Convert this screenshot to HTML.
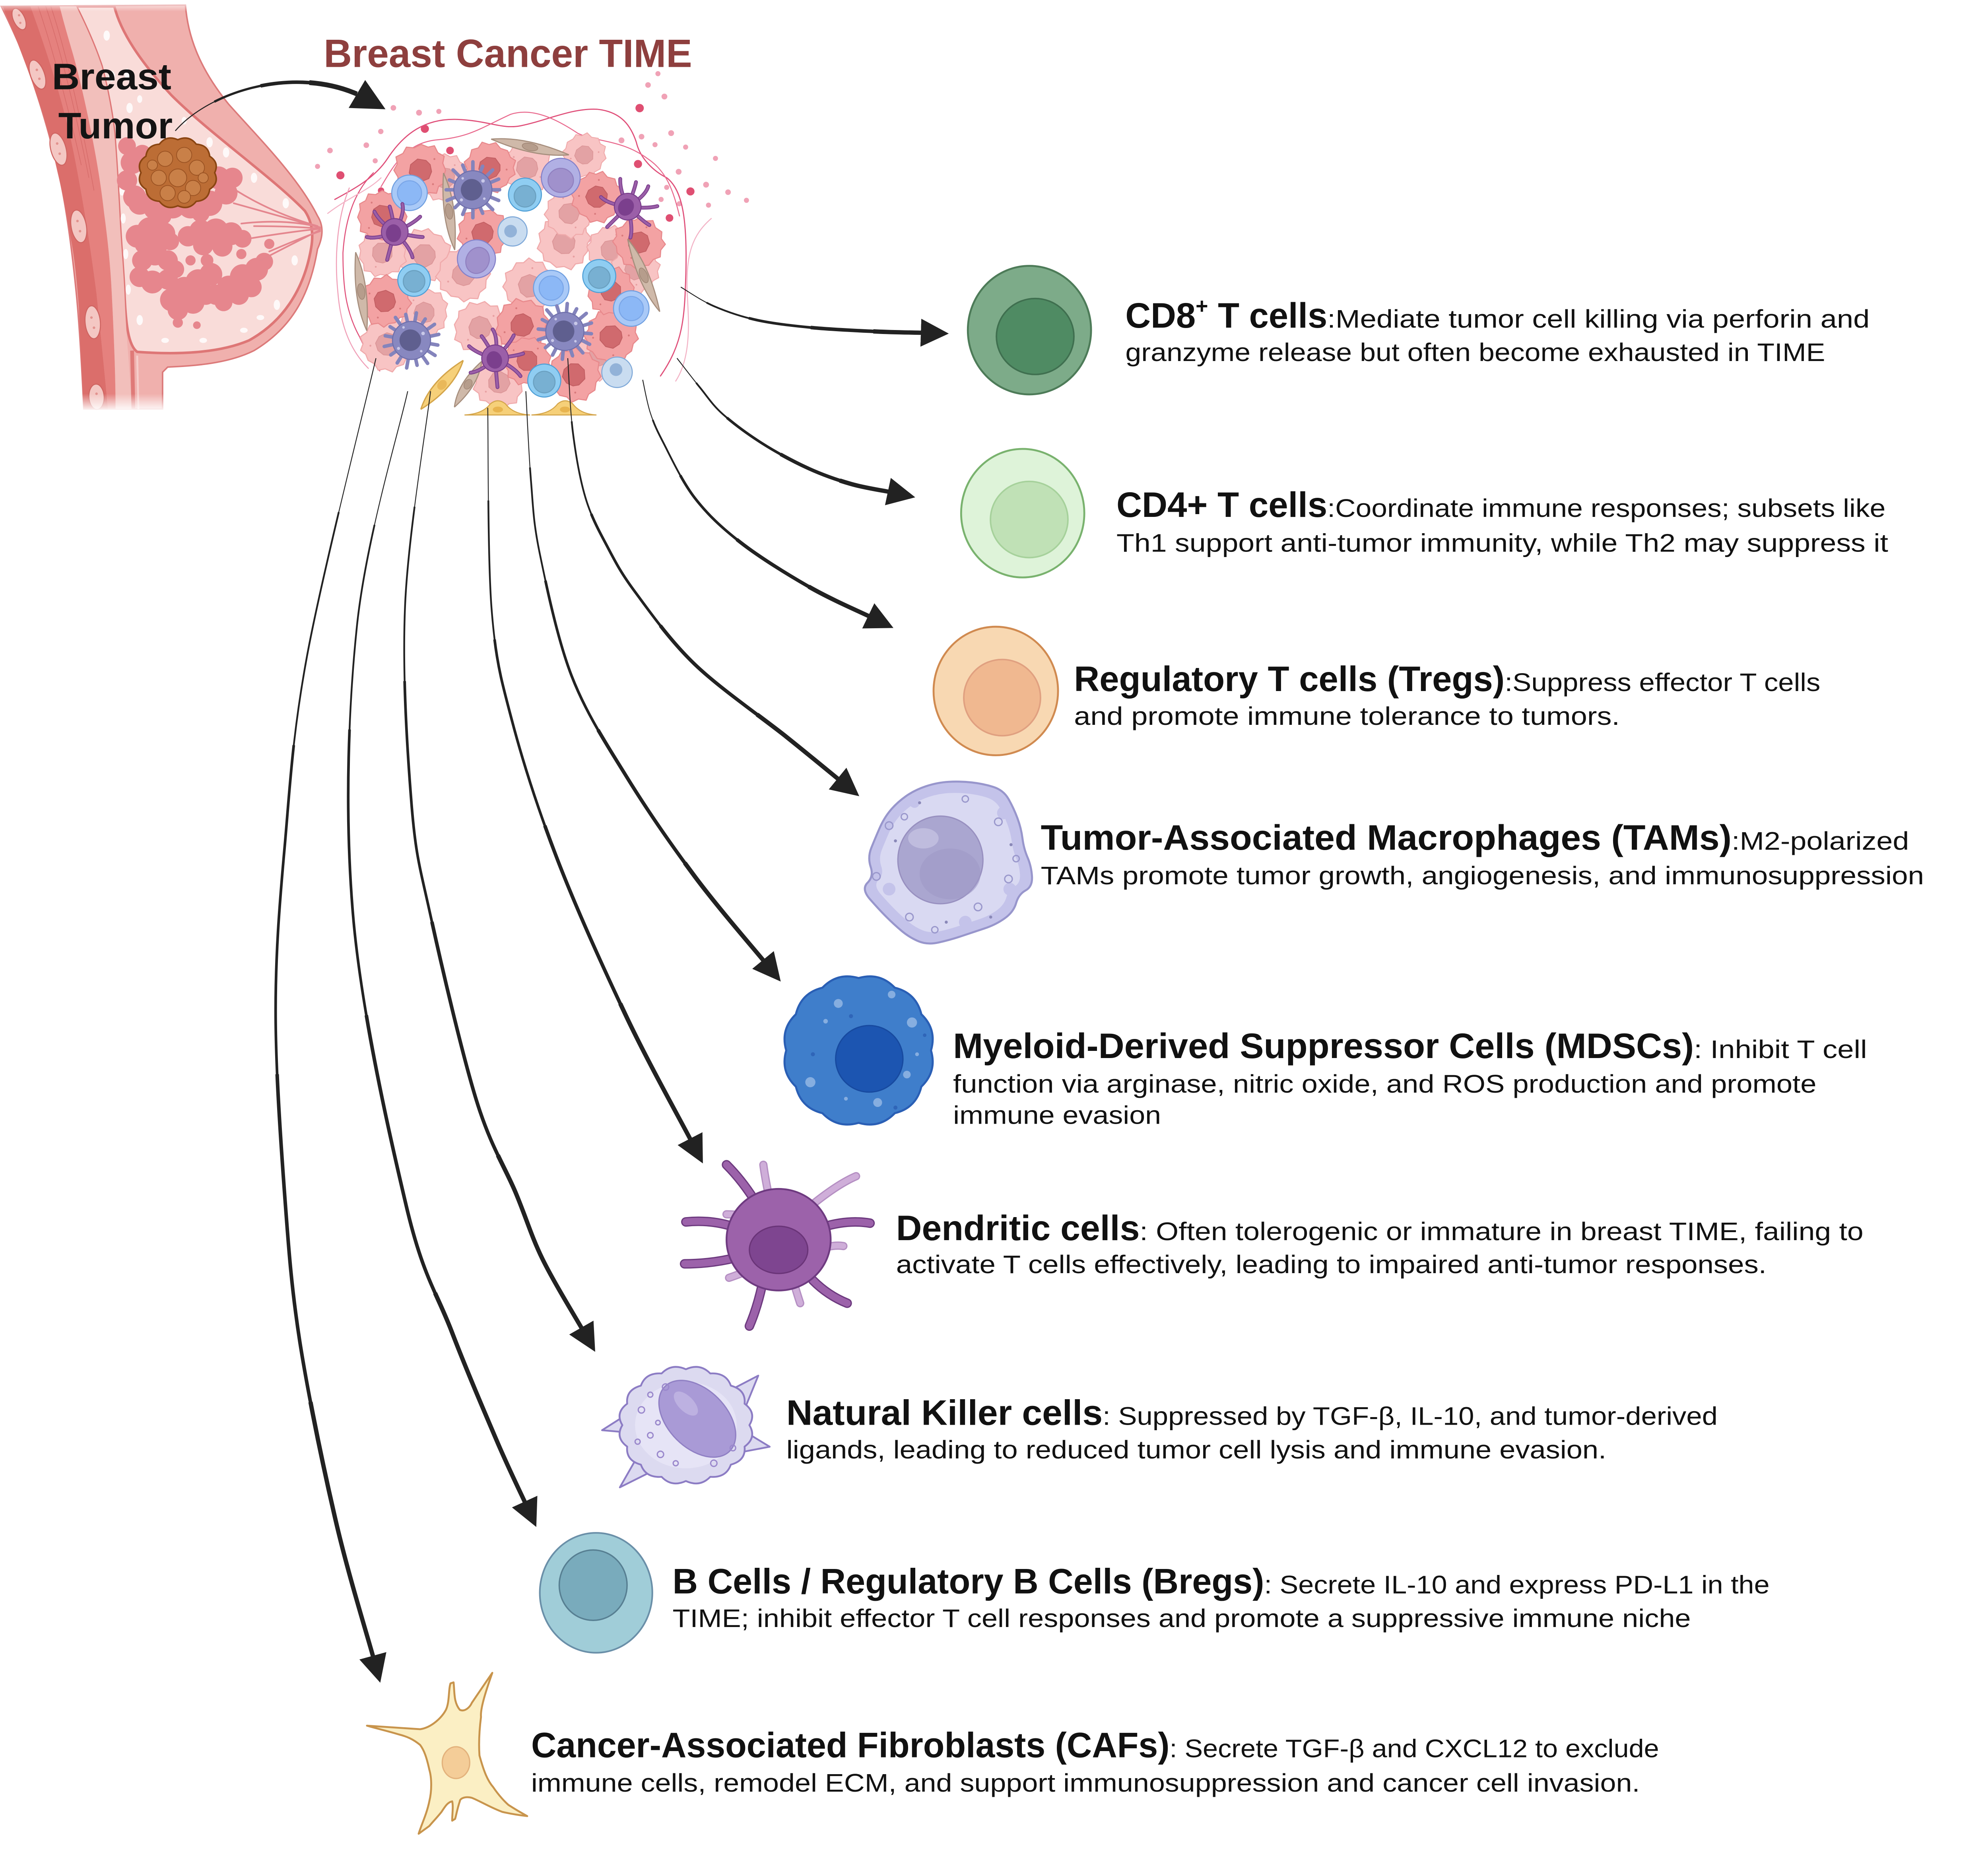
<!DOCTYPE html>
<html>
<head>
<meta charset="utf-8">
<style>
html,body{margin:0;padding:0;background:#fff;width:5009px;height:4688px;overflow:hidden;}
svg{display:block;}
</style>
</head>
<body>
<svg xmlns="http://www.w3.org/2000/svg" width="5009" height="4688" viewBox="0 0 1568 1467.5">
<defs>
  <marker id="ah" markerUnits="userSpaceOnUse" markerWidth="24" markerHeight="22" refX="2" refY="11" orient="auto" viewBox="0 0 24 22">
    <path d="M0,0 L22,11 L0,22 Z" fill="#222"/>
  </marker>
  <path id="ccp" d="M18,0 L16.5,4.5 L17.5,9 L13,11.5 L11.5,16.5 L6,16 L1,18.5 L-4.5,16.5 L-9,17 L-11.5,12.5 L-16.5,10.5 L-16,5 L-19,0 L-16.5,-4.5 L-17.5,-9.5 L-12.5,-12 L-10,-16.5 L-4.5,-16 L0.5,-18.5 L5.5,-16.5 L10,-17.5 L12.5,-12.5 L17,-10 L16,-5 Z"/>
  <path id="ncp" d="M8,1 L6,6 L1,8 L-5,6.5 L-8,2 L-7,-4 L-2,-8 L4,-7 L7,-4 Z"/>
  <g id="ccD">
    <use href="#ccp" fill="#f3a2a3" stroke="#e8898c" stroke-width=".8" stroke-linejoin="round"/>
    <use href="#ncp" fill="#d06a6e" stroke="#c25e62" stroke-width=".6" stroke-linejoin="round"/>
    <circle cx="10" cy="-8" r=".7" fill="#d87a7c"/><circle cx="-10" cy="8" r=".7" fill="#d87a7c"/><circle cx="9" cy="10" r=".7" fill="#d87a7c"/>
  </g>
  <g id="ccL">
    <use href="#ccp" fill="#f8c4c4" stroke="#f0aaab" stroke-width=".8" stroke-linejoin="round"/>
    <use href="#ncp" fill="#e3a2a4" stroke="#dc9698" stroke-width=".6" stroke-linejoin="round"/>
    <circle cx="-10" cy="-8" r=".7" fill="#e8a0a2"/><circle cx="10" cy="7" r=".7" fill="#e8a0a2"/>
  </g>
  <g id="spk">
    <path d="M0,0L21,0M0,0L20.3,8.4M0,0L15.6,15.6M0,0L7.7,18.5M0,0L0,22M0,0L-8,19.4M0,0L-14.1,14.1M0,0L-20.3,8.4M0,0L-21,0M0,0L-18.5,-7.7M0,0L-15.6,-15.6M0,0L-8,-19.4M0,0L0,-22M0,0L7.7,-18.5M0,0L15.6,-15.6M0,0L20.3,-8.4" stroke="#8484bc" stroke-width="2.8" stroke-linecap="round"/>
    <circle r="15" fill="#8888c0" stroke="#6f6fab" stroke-width=".8"/>
    <circle cx="-1" cy="0" r="8.5" fill="#5f5f8f"/>
    <circle cx="8" cy="-7" r="1.4" fill="#c8c8e8"/><circle cx="-9" cy="8" r="1.2" fill="#c8c8e8"/><circle cx="9" cy="7" r="1" fill="#c8c8e8"/><circle cx="-8" cy="-9" r="1" fill="#c8c8e8"/>
  </g>
  <g id="dcs">
    <path d="M0,0 Q8,-14 6,-22 M0,0 Q14,-6 20,-12 M0,0 Q16,4 22,4 M0,0 Q12,12 14,20 M0,0 Q-4,14 -6,22 M0,0 Q-14,6 -22,4 M0,0 Q-12,-8 -16,-16 M0,0 Q-2,-14 -4,-20" fill="none" stroke="#7a3e8c" stroke-width="3" stroke-linecap="round"/>
    <path d="M0,0 Q8,-14 6,-22 M0,0 Q14,-6 20,-12 M0,0 Q16,4 22,4 M0,0 Q12,12 14,20 M0,0 Q-4,14 -6,22 M0,0 Q-14,6 -22,4 M0,0 Q-12,-8 -16,-16 M0,0 Q-2,-14 -4,-20" fill="none" stroke="#9b5fa8" stroke-width="1.7" stroke-linecap="round"/>
    <circle r="10.5" fill="#9b5fa8" stroke="#7a3e8c" stroke-width=".8"/>
    <ellipse cx="-1" cy="1" rx="6" ry="7" fill="#7b3f8d"/>
  </g>
  <g id="spd">
    <path d="M-30,0 Q-5,-7 30,0 Q5,7 -30,0 Z" fill="#cfb9a9" stroke="#a68e7d" stroke-width=".8"/>
    <ellipse rx="6" ry="2.6" fill="#b69d8c" stroke="#a08675" stroke-width=".5"/>
  </g>
  <linearGradient id="fadeTop" x1="0" y1="0" x2="0" y2="1">
    <stop offset="0" stop-color="#fff" stop-opacity="1"/><stop offset="1" stop-color="#fff" stop-opacity="0"/>
  </linearGradient>
  <linearGradient id="fadeBot" x1="0" y1="0" x2="0" y2="1">
    <stop offset="0" stop-color="#fff" stop-opacity="0"/><stop offset="1" stop-color="#fff" stop-opacity="1"/>
  </linearGradient>
  <path id="tamp" d="M685,708 Q678,700 683,695 Q688,690 685.5,682.5 Q683,675 686,667.5 Q689,660 692.5,652 Q696,644 701,638 Q706,632 713,627 Q720,622 729,619 Q738,616 747,615.5 Q756,615 765,616 Q774,617 782,619.5 Q790,622 794,629 Q798,636 801,644 Q804,652 805,660 Q806,668 809,675 Q812,682 812.5,690 Q813,698 807.5,701 Q802,704 800,711 Q798,718 791,723 Q784,728 775,731 Q766,734 757,737 Q748,740 739,742 Q730,744 723,741 Q716,738 710,733 Q704,728 698,722 Q692,716 685,708 Z"/>
  <path id="aCD8" pathLength="100" d="M536,226 C540.3,228.5 552,236.7 562,241 C572,245.3 583,249.2 596,252 C609,254.8 624.3,256.5 640,258 C655.7,259.5 675.5,260.3 690,261 C704.5,261.7 720.8,261.8 727,262"/>
  <path id="aCD4" pathLength="100" d="M533,282 C536,285.8 545,297.7 551,305 C557,312.3 560.8,318.7 569,326 C577.2,333.3 588.7,341.8 600,349 C611.3,356.2 625.3,363.7 637,369 C648.7,374.3 659.3,377.9 670,381 C680.7,384.1 695.8,386.3 701,387.4"/>
  <path id="aTR" pathLength="100" d="M506,299 C507,303.3 509.3,316.8 512,325 C514.7,333.2 516.2,336.8 522,348 C527.8,359.2 536.8,378.8 547,392 C557.2,405.2 568,415.3 583,427 C598,438.7 619.9,452.2 637,462 C654.1,471.8 677.3,481.8 685.4,485.7"/>
  <path id="aTAM" pathLength="100" d="M447,282 C447.7,291.7 448.7,321.7 451,340 C453.3,358.3 456.5,377 461,392 C465.5,407 471.5,417.7 478,430 C484.5,442.3 488.5,450.5 500,466 C511.5,481.5 527.2,504 547,523 C566.8,542 600,564.8 619,580 C638,595.2 654,608.5 661,614.2"/>
  <path id="aMD" pathLength="100" d="M414,308 C414.7,319.7 416.2,356.7 418,378 C419.8,399.3 419.7,410.3 425,436 C430.3,461.7 438.7,502.8 450,532 C461.3,561.2 476.8,584.7 493,611 C509.2,637.3 528.8,665.6 547,690 C565.2,714.4 592.8,746.1 602,757.3"/>
  <path id="aDC" pathLength="100" d="M384,321 C384.5,347.3 383.8,438 387,479 C390.2,520 394.3,534 403,567 C411.7,600 424,638.2 439,677 C454,715.8 475.5,763.1 493,800 C510.5,836.9 535.7,881.8 544.2,898.2"/>
  <path id="aNK" pathLength="100" d="M339,308 C335.7,335.8 321.5,420.8 319,475 C316.5,529.2 320.7,592 324,633 C327.3,674 330.5,682.2 339,721 C347.5,759.8 363.8,829.7 375,866 C386.2,902.3 397.3,918.2 406,939 C414.7,959.8 418.2,973 427,991 C435.8,1009 453.4,1037.6 458.7,1046.9"/>
  <path id="aB" pathLength="100" d="M321,308 C314.3,338.8 288.2,424.2 281,493 C273.8,561.8 271.5,644.8 278,721 C284.5,797.2 307.1,895.5 320,950 C332.9,1004.5 343.7,1017.3 355.5,1048 C367.3,1078.7 381.3,1111.3 391,1134 C400.7,1156.7 410.1,1175.7 413.9,1184"/>
  <path id="aCAF" pathLength="100" d="M296,282 C287,320.8 254,450.7 242,515 C230,579.3 228.2,621.2 224,668 C219.8,714.8 217,750.8 217,796 C217,841.2 220.8,895.7 224,939 C227.2,982.3 229.3,1012.8 236,1056 C242.8,1099.2 254.8,1156.4 264.5,1198 C274.2,1239.6 289.2,1287.6 294.1,1305.5"/>
</defs>

<!-- ================= BREAST ANATOMY ================= -->
<g>
  <path d="M1,5 L146,4 C148,30 158,55 180,82 C205,110 235,140 250,170 Q257,181 250,196 C244,232 230,258 200,276 C178,287 150,288 132,289 L128,293 L128,322 L66,322 C64,280 62,250 60,230 C57,200 52,160 46,136 C38,100 28,70 18,42 C12,28 6,15 1,5 Z" fill="#f0b0ad" stroke="#dc7a7a" stroke-width="1.2"/>
  <path d="M60,5 L90,5 C95,25 110,48 135,75 C165,105 215,140 240,166 Q248,178 245,195 C240,225 225,252 196,268 C170,279 135,279 108,277 C101,272 99,255 98,231 C97,210 95,190 94,168 C93,150 92,130 90,105 C89,95 86,75 80,52 C76,40 70,25 60,5 Z" fill="#f9dcd9" stroke="#de7676" stroke-width="2"/>
  <path d="M2,5 L24,5 C35,35 50,80 58,120 C66,160 72,200 76,231 C80,270 83,300 85,322 L66,322 C64,290 63,262 62,241 C60,215 58,200 56,189 C50,155 42,115 32,84 C24,60 12,28 2,5 Z" fill="#db6e6b"/>
  <path d="M24,5 L47,5 C52,25 57,40 60,52 C66,75 70,95 72,105 C77,130 80,150 82,168 C85,190 87,210 88,231 C90,270 91,300 91,322 L85,322 C83,300 80,270 76,231 C72,200 66,160 58,120 C50,80 35,35 24,5 Z" fill="#e5817e"/>
  <path d="M30,5 C42,40 55,90 64,130 M36,5 C48,40 60,90 70,140 M40,5 C52,40 64,95 74,150" stroke="#d66c6a" stroke-width=".5" fill="none"/>
  <path d="M47,5 L60,5 C70,25 76,40 80,52 C86,75 89,95 90,105 C92,130 93,150 94,168 C95,190 97,210 98,231 C99,260 102,290 104,322 L91,322 C91,300 90,270 88,231 C87,210 85,190 82,168 C80,150 77,130 72,105 C70,95 66,75 60,52 C57,40 52,25 47,5 Z" fill="#f2bfbb"/>
  <path d="M104,276 L105,322" stroke="#df7a78" stroke-width="3"/>
  <path d="M108,280 L109,322" stroke="#f6cdca" stroke-width="1.5"/>
  <g fill="#f4c7c3" stroke="#cf6461" stroke-width=".8">
    <ellipse cx="15" cy="15" rx="4.5" ry="9" transform="rotate(-25 15 15)"/>
    <ellipse cx="29.5" cy="58.7" rx="5.5" ry="12" transform="rotate(-20 29.5 58.7)"/>
    <ellipse cx="46" cy="117.4" rx="6" ry="13" transform="rotate(-15 46 117.4)"/>
    <ellipse cx="62" cy="178.2" rx="6" ry="13" transform="rotate(-10 62 178.2)"/>
    <ellipse cx="73" cy="253.7" rx="6" ry="13" transform="rotate(-5 73 253.7)"/>
    <ellipse cx="76" cy="312.4" rx="6" ry="10" transform="rotate(-3 76 312.4)"/>
  </g>
  <g fill="#e2928e">
    <circle cx="15" cy="12" r=".9"/><circle cx="16" cy="18" r=".9"/><circle cx="29" cy="55" r="1"/><circle cx="31" cy="62" r="1"/><circle cx="45" cy="113" r="1"/><circle cx="47" cy="121" r="1"/><circle cx="61" cy="174" r="1"/><circle cx="63" cy="182" r="1"/><circle cx="72" cy="250" r="1"/><circle cx="74" cy="258" r="1"/><circle cx="76" cy="310" r="1"/>
  </g>
  <g fill="#ffffff" opacity=".85">
    <ellipse cx="84" cy="28" rx="2.5" ry="4"/><ellipse cx="88" cy="60" rx="2.5" ry="4"/><ellipse cx="102" cy="85" rx="2.5" ry="4"/><ellipse cx="120" cy="100" rx="2.5" ry="4"/><ellipse cx="165" cy="112" rx="2.5" ry="4"/><ellipse cx="178" cy="120" rx="2.5" ry="4"/><ellipse cx="200" cy="140" rx="2.5" ry="4"/><ellipse cx="225" cy="160" rx="2.5" ry="4"/><ellipse cx="232" cy="205" rx="2.5" ry="4"/><ellipse cx="218" cy="240" rx="2.5" ry="4"/><ellipse cx="192" cy="260" rx="3" ry="2"/><ellipse cx="160" cy="268" rx="3" ry="2"/><ellipse cx="130" cy="268" rx="3" ry="2"/><ellipse cx="110" cy="252" rx="2.5" ry="4"/><ellipse cx="101" cy="228" rx="2" ry="4"/><ellipse cx="99" cy="200" rx="2" ry="4"/><ellipse cx="97" cy="172" rx="2" ry="4"/><ellipse cx="96" cy="150" rx="2" ry="4"/><ellipse cx="100" cy="58" rx="2" ry="4"/><ellipse cx="110" cy="78" rx="2" ry="3"/><ellipse cx="145" cy="95" rx="2" ry="3"/><ellipse cx="205" cy="250" rx="3" ry="2"/>
  </g>
  <g fill="#e6868d">
    <circle cx="100" cy="115" r="7"/><circle cx="104" cy="128" r="9"/><circle cx="100" cy="142" r="8"/><circle cx="106" cy="155" r="9"/><circle cx="112" cy="121" r="7"/>
    <circle cx="110" cy="160" r="9"/><circle cx="122" cy="164" r="9"/><circle cx="136" cy="162" r="10"/><circle cx="150" cy="162" r="10"/><circle cx="165" cy="160" r="10"/><circle cx="178" cy="152" r="9"/><circle cx="183" cy="140" r="8"/><circle cx="172" cy="140" r="9"/><circle cx="158" cy="168" r="7"/><circle cx="128" cy="170" r="7"/>
    <circle cx="108" cy="186" r="9"/><circle cx="118" cy="181" r="10"/><circle cx="129" cy="184" r="9"/><circle cx="134" cy="190" r="7"/><circle cx="114" cy="192" r="8"/><circle cx="124" cy="193" r="8"/>
    <circle cx="148" cy="186" r="8"/><circle cx="158" cy="182" r="9"/><circle cx="170" cy="182" r="10"/><circle cx="182" cy="184" r="9"/><circle cx="191" cy="188" r="7"/><circle cx="160" cy="193" r="8"/><circle cx="175" cy="194" r="8"/>
    <circle cx="112" cy="205" r="8"/><circle cx="122" cy="200" r="9"/><circle cx="132" cy="205" r="8"/><circle cx="110" cy="218" r="8"/><circle cx="120" cy="222" r="9"/><circle cx="132" cy="220" r="8"/><circle cx="138" cy="212" r="7"/>
    <circle cx="135" cy="236" r="9"/><circle cx="145" cy="228" r="10"/><circle cx="156" cy="222" r="10"/><circle cx="166" cy="216" r="9"/><circle cx="140" cy="244" r="8"/><circle cx="152" cy="238" r="9"/><circle cx="162" cy="232" r="8"/>
    <circle cx="170" cy="232" r="8"/><circle cx="180" cy="226" r="9"/><circle cx="191" cy="218" r="10"/><circle cx="202" cy="212" r="9"/><circle cx="208" cy="206" r="7"/><circle cx="176" cy="238" r="7"/><circle cx="188" cy="232" r="8"/><circle cx="198" cy="226" r="8"/>
    <circle cx="150" cy="205" r="4"/><circle cx="163" cy="205" r="5"/><circle cx="212" cy="192" r="4"/><circle cx="190" cy="200" r="4"/><circle cx="140" cy="254" r="4"/><circle cx="155" cy="256" r="3"/>
  </g>
  <g fill="none" stroke="#e4868e" stroke-width="1.3" stroke-linecap="round">
    <path d="M195,188 Q225,183 252,180"/><path d="M190,176 Q225,172 252,179"/><path d="M205,205 Q230,192 252,181"/><path d="M184,160 Q220,170 251,179"/><path d="M212,198 Q235,188 252,182"/><path d="M186,150 Q215,168 250,178"/><path d="M200,178 Q230,178 252,180"/>
  </g>
  <path d="M169,136 Q172.8,144 165.1,149 Q164,157.9 154.5,158.5 Q148.8,165.9 140,162 Q131.2,165.9 125.5,158.5 Q116,157.9 114.9,149 Q107.2,144 111,136 Q107.2,128 114.9,123 Q116,114.1 125.5,113.5 Q131.2,106.1 140,110 Q148.8,106.1 154.5,113.5 Q164,114.1 165.1,123 Q172.8,128 169,136 Z" fill="#bc6d35" stroke="#8a4512" stroke-width="1.2"/>
  <g fill="#c98048" stroke="#9a5222" stroke-width=".6">
    <circle cx="130" cy="125" r="6"/><circle cx="145" cy="122" r="6"/><circle cx="155" cy="132" r="6"/><circle cx="125" cy="140" r="6"/><circle cx="140" cy="140" r="7"/><circle cx="152" cy="148" r="6"/><circle cx="132" cy="152" r="6"/><circle cx="145" cy="155" r="5"/><circle cx="120" cy="130" r="4"/><circle cx="160" cy="140" r="4"/>
  </g>
  <rect x="0" y="0" width="262" height="9" fill="url(#fadeTop)"/>
  <rect x="55" y="310" width="80" height="14" fill="url(#fadeBot)"/>
  <rect x="55" y="323" width="80" height="5" fill="#fff"/>
</g>

<text x="40.9" y="70.2" font-family="Liberation Sans, Arial, sans-serif" font-weight="bold" font-size="29" fill="#141414" textLength="94" lengthAdjust="spacingAndGlyphs">Breast</text>
<text x="45.9" y="109" font-family="Liberation Sans, Arial, sans-serif" font-weight="bold" font-size="29" fill="#141414" textLength="90" lengthAdjust="spacingAndGlyphs">Tumor</text>

<text x="254.9" y="52.7" font-family="Liberation Sans, Arial, sans-serif" font-weight="bold" font-size="31" fill="#8e3f3e" textLength="290" lengthAdjust="spacingAndGlyphs">Breast Cancer TIME</text>

<g fill="none" stroke="#222" stroke-linecap="butt">
  <path d="M138,103 C165,72 230,52 281,74" stroke-width="0.8" pathLength="100"/>
  <path d="M138,103 C165,72 230,52 281,74" stroke-width="1.8" pathLength="100" stroke-dasharray="0 25 75 0"/>
  <path d="M138,103 C165,72 230,52 281,74" stroke-width="2.8" pathLength="100" stroke-dasharray="0 50 50 0"/>
  <path d="M138,103 C165,72 230,52 281,74" stroke-width="3.8" pathLength="100" stroke-dasharray="0 75 25 0"/>
</g>
<polygon points="303.5,86 274.5,85 287.5,63" fill="#222"/>

<!-- ================= TIME CLUSTER ================= -->
<g>
  <g fill="#df4f72">
    <circle cx="334.5" cy="101.4" r="3.2"/><circle cx="268" cy="138" r="3.2"/><circle cx="354.3" cy="118.5" r="3"/><circle cx="503.6" cy="85.1" r="3.3"/><circle cx="502.3" cy="129.1" r="3.2"/><circle cx="543.6" cy="150.7" r="3.2"/><circle cx="527.1" cy="171.6" r="3"/><circle cx="300" cy="150" r="2.5"/>
  </g>
  <g fill="#f0a2b6">
    <circle cx="309.7" cy="84.9" r="2.2"/><circle cx="329.9" cy="88.7" r="2.3"/><circle cx="345.5" cy="87.7" r="2"/><circle cx="299.8" cy="103.5" r="2.1"/><circle cx="288.4" cy="114.3" r="2.2"/><circle cx="259.8" cy="118.5" r="2.2"/><circle cx="510.2" cy="66.9" r="2.2"/><circle cx="523.1" cy="76" r="2.3"/><circle cx="528.4" cy="104.8" r="2.3"/><circle cx="489.3" cy="110.5" r="2.3"/><circle cx="505.1" cy="107.6" r="2.2"/><circle cx="515.7" cy="113.9" r="2"/><circle cx="539.8" cy="115.8" r="2"/><circle cx="563.3" cy="124.7" r="2"/><circle cx="534.3" cy="135.2" r="2.3"/><circle cx="555.9" cy="145.4" r="2.3"/><circle cx="573.2" cy="151.3" r="2.2"/><circle cx="524.9" cy="147.5" r="2"/><circle cx="557.8" cy="161.5" r="2"/><circle cx="587.7" cy="157.7" r="2"/><circle cx="534.8" cy="160.4" r="2"/><circle cx="520.5" cy="157" r="2"/><circle cx="477.7" cy="181.6" r="2.5"/><circle cx="463" cy="188.3" r="2.5"/><circle cx="295.4" cy="126.6" r="2"/><circle cx="290" cy="160" r="2.2"/><circle cx="250" cy="131" r="2"/><circle cx="518" cy="58" r="2"/>
  </g>
  <g fill="none" stroke-linecap="round">
    <path d="M263.6,157 C280,148 295,140 305,125 C318,105 335,93 360,94 C385,95 395,102 410,99 C430,95 450,85 470,86 C490,88 497,100 501,112 C504,125 515,135 525,140 C538,150 541,175 540,215 C539,250 538,270 520,296" stroke="#e0507a" stroke-width=".9"/>
    <path d="M300,147 C310,130 320,112 345,110 C370,108 380,100 402,90 C420,84 440,95 455,105 C470,112 490,110 510,125 C525,135 530,150 535,170" stroke="#e96a8e" stroke-width=".8"/>
    <path d="M294,136 C280,150 272,170 270,199 C270,225 272,245 283,265 C290,280 295,288 299,292" stroke="#e0507a" stroke-width=".8"/>
    <path d="M275,148 C266,170 263,200 266,230 C268,255 275,275 290,290" stroke="#f0a0b8" stroke-width=".8"/>
    <path d="M532,300 C545,280 542,250 541,230 C540,200 545,185 560,172" stroke="#f3b3c6" stroke-width=".8"/>
    <path d="M258,168 C275,155 290,150 300,140" stroke="#f3b3c6" stroke-width=".8"/>
  </g>
  <use href="#ccL" transform="translate(415,132) scale(1.05)"/>
  <use href="#ccL" transform="translate(334,201) rotate(40) scale(1.1)"/>
  <use href="#ccL" transform="translate(301,199) rotate(80) scale(1)"/>
  <use href="#ccL" transform="translate(365,216) rotate(120) scale(1.1)"/>
  <use href="#ccL" transform="translate(444,191) rotate(20) scale(1.1)"/>
  <use href="#ccL" transform="translate(417,225) rotate(60) scale(1.1)"/>
  <use href="#ccL" transform="translate(378,258) rotate(100) scale(1.1)"/>
  <use href="#ccL" transform="translate(305,271) rotate(140) scale(1.1)"/>
  <use href="#ccL" transform="translate(448,168) rotate(30) scale(1)"/>
  <use href="#ccL" transform="translate(481,197) rotate(70) scale(1)"/>
  <use href="#ccL" transform="translate(393,301) rotate(110) scale(1.05)"/>
  <use href="#ccL" transform="translate(472,280) rotate(150) scale(1)"/>
  <use href="#ccL" transform="translate(334,246) rotate(10) scale(1)"/>
  <use href="#ccL" transform="translate(500,212) rotate(50) scale(1)"/>
  <use href="#ccL" transform="translate(350,140) rotate(90) scale(1)"/>
  <use href="#ccL" transform="translate(460,122) rotate(130) scale(.9)"/>
  <use href="#ccD" transform="translate(331,134) scale(1.1)"/>
  <use href="#ccD" transform="translate(385.5,132) rotate(45) scale(1.05)"/>
  <use href="#ccD" transform="translate(301,170) rotate(90) scale(1.05)"/>
  <use href="#ccD" transform="translate(470,155) rotate(135) scale(1.05)"/>
  <use href="#ccD" transform="translate(380,183.5) rotate(20) scale(1.05)"/>
  <use href="#ccD" transform="translate(303,237) rotate(65) scale(1.05)"/>
  <use href="#ccD" transform="translate(411,256) rotate(110) scale(1.1)"/>
  <use href="#ccD" transform="translate(503,191) rotate(155) scale(1.05)"/>
  <use href="#ccD" transform="translate(481,265) rotate(35) scale(1.1)"/>
  <use href="#ccD" transform="translate(481,229) rotate(80) scale(1)"/>
  <use href="#ccD" transform="translate(452,295) rotate(125) scale(1.1)"/>
  <use href="#ccD" transform="translate(415,284) rotate(170) scale(1)"/>
  <use href="#spd" transform="translate(417.3,115.7) rotate(11.4) scale(1.04,1.1)"/>
  <use href="#spd" transform="translate(353.6,166.5) rotate(81.7) scale(1.02,1.1)"/>
  <use href="#spd" transform="translate(284.4,229.5) rotate(81.9) scale(1.04,1.1)"/>
  <use href="#spd" transform="translate(506.8,216.8) rotate(66.1) scale(1.04,1.1)"/>
  <use href="#spd" transform="translate(368.5,302.5) rotate(120.8) scale(.7,1.1)"/>
  <g transform="translate(348,303) rotate(130.9) scale(.85,1.3)">
    <path d="M-30,0 Q-5,-7 30,0 Q5,7 -30,0 Z" fill="#f6d079" stroke="#d4a54b" stroke-width=".8"/>
    <ellipse rx="5" ry="2.6" fill="#e9b85a"/>
  </g>
  <path d="M365.7,326.7 Q380,326 386,318 Q392,313 398,318 Q404,326 417.3,326.7 Z" fill="#f6d079" stroke="#d4a54b" stroke-width=".8"/>
  <ellipse cx="392" cy="322.4" rx="4" ry="2.3" fill="#e8b44f"/>
  <path d="M418.4,326.7 Q433,326 439,318 Q445,313 451,318 Q457,326 469.6,326.7 Z" fill="#f6d079" stroke="#d4a54b" stroke-width=".8"/>
  <ellipse cx="444.8" cy="322.4" rx="4" ry="2.3" fill="#e8b44f"/>
  <g stroke-width=".8">
    <circle cx="322.4" cy="151.8" r="14" fill="#a9c9f7" stroke="#6f9fe0"/><circle cx="322.4" cy="151.8" r="9.5" fill="#8cb8f6" stroke="#7aa6e8"/>
    <circle cx="434" cy="226.8" r="14" fill="#a9c9f7" stroke="#6f9fe0"/><circle cx="434" cy="226.8" r="9.5" fill="#8cb8f6" stroke="#7aa6e8"/>
    <circle cx="497" cy="242.9" r="14" fill="#a9c9f7" stroke="#6f9fe0"/><circle cx="497" cy="242.9" r="9.5" fill="#8cb8f6" stroke="#7aa6e8"/>
    <circle cx="413.3" cy="153.2" r="13" fill="#8fcdf2" stroke="#4f9fd6"/><circle cx="413.3" cy="154.5" r="8.5" fill="#78b0d2" stroke="#6aa0c0"/>
    <circle cx="326" cy="220.5" r="12.8" fill="#8fcdf2" stroke="#4f9fd6"/><circle cx="326" cy="221.5" r="8.5" fill="#78b0d2" stroke="#6aa0c0"/>
    <circle cx="471.8" cy="217.3" r="13" fill="#8fcdf2" stroke="#4f9fd6"/><circle cx="471.8" cy="218.5" r="8.5" fill="#78b0d2" stroke="#6aa0c0"/>
    <circle cx="428.5" cy="299.6" r="13" fill="#8fcdf2" stroke="#4f9fd6"/><circle cx="428.5" cy="300.8" r="8.5" fill="#78b0d2" stroke="#6aa0c0"/>
    <circle cx="403.5" cy="182.2" r="11.5" fill="#c9dcf0" stroke="#7ea8d8"/><circle cx="402" cy="182" r="5" fill="#92b2d8"/>
    <circle cx="485.8" cy="293.1" r="12" fill="#c9dcf0" stroke="#7ea8d8"/><circle cx="485" cy="291" r="5" fill="#92b2d8"/>
    <circle cx="441.5" cy="139.9" r="15.3" fill="#b1b0e4" stroke="#8480c8"/><ellipse cx="441.5" cy="142" rx="10" ry="9.5" fill="#a091cc" stroke="#9080c0"/>
    <circle cx="375.1" cy="203.8" r="15" fill="#b1b0e4" stroke="#8480c8"/><ellipse cx="376" cy="205" rx="9" ry="10.5" fill="#a091cc" stroke="#9080c0" transform="rotate(25 376 205)"/>
  </g>
  <use href="#spk" transform="translate(372.3,149.4)"/>
  <use href="#spk" transform="translate(324,268) rotate(10)"/>
  <use href="#spk" transform="translate(444.7,260.9) rotate(5)"/>
  <use href="#dcs" transform="translate(310.8,182.6)"/>
  <use href="#dcs" transform="translate(494.2,162.7) rotate(30)"/>
  <use href="#dcs" transform="translate(389.8,282.1) rotate(-20)"/>
</g>

<!-- ================= ARROWS ================= -->
<g fill="none" stroke="#222" stroke-linejoin="round">
  <g stroke-width="0.7"><use href="#aCD8"/><use href="#aCD4"/><use href="#aTR"/><use href="#aTAM"/><use href="#aMD"/><use href="#aDC"/><use href="#aNK"/><use href="#aB"/><use href="#aCAF"/></g>
  <g stroke-width="1.4" stroke-dasharray="0 12 88 0"><use href="#aCD8"/><use href="#aCD4"/><use href="#aTR"/><use href="#aTAM"/><use href="#aMD"/><use href="#aDC"/><use href="#aNK"/><use href="#aB"/><use href="#aCAF"/></g>
  <g stroke-width="2.1" stroke-dasharray="0 30 70 0"><use href="#aCD8"/><use href="#aCD4"/><use href="#aTR"/><use href="#aTAM"/><use href="#aMD"/><use href="#aDC"/><use href="#aNK"/><use href="#aB"/><use href="#aCAF"/></g>
  <g stroke-width="2.8" stroke-dasharray="0 55 45 0"><use href="#aCD8"/><use href="#aCD4"/><use href="#aTR"/><use href="#aTAM"/><use href="#aMD"/><use href="#aDC"/><use href="#aNK"/><use href="#aB"/><use href="#aCAF"/></g>
  <g stroke-width="3.4" stroke-dasharray="0 80 20 0">
    <path pathLength="100" marker-end="url(#ah)" d="M536,226 C540.3,228.5 552,236.7 562,241 C572,245.3 583,249.2 596,252 C609,254.8 624.3,256.5 640,258 C655.7,259.5 675.5,260.3 690,261 C704.5,261.7 720.8,261.8 727,262"/>
    <path pathLength="100" marker-end="url(#ah)" d="M533,282 C536,285.8 545,297.7 551,305 C557,312.3 560.8,318.7 569,326 C577.2,333.3 588.7,341.8 600,349 C611.3,356.2 625.3,363.7 637,369 C648.7,374.3 659.3,377.9 670,381 C680.7,384.1 695.8,386.3 701,387.4"/>
    <path pathLength="100" marker-end="url(#ah)" d="M506,299 C507,303.3 509.3,316.8 512,325 C514.7,333.2 516.2,336.8 522,348 C527.8,359.2 536.8,378.8 547,392 C557.2,405.2 568,415.3 583,427 C598,438.7 619.9,452.2 637,462 C654.1,471.8 677.3,481.8 685.4,485.7"/>
    <path pathLength="100" marker-end="url(#ah)" d="M447,282 C447.7,291.7 448.7,321.7 451,340 C453.3,358.3 456.5,377 461,392 C465.5,407 471.5,417.7 478,430 C484.5,442.3 488.5,450.5 500,466 C511.5,481.5 527.2,504 547,523 C566.8,542 600,564.8 619,580 C638,595.2 654,608.5 661,614.2"/>
    <path pathLength="100" marker-end="url(#ah)" d="M414,308 C414.7,319.7 416.2,356.7 418,378 C419.8,399.3 419.7,410.3 425,436 C430.3,461.7 438.7,502.8 450,532 C461.3,561.2 476.8,584.7 493,611 C509.2,637.3 528.8,665.6 547,690 C565.2,714.4 592.8,746.1 602,757.3"/>
    <path pathLength="100" marker-end="url(#ah)" d="M384,321 C384.5,347.3 383.8,438 387,479 C390.2,520 394.3,534 403,567 C411.7,600 424,638.2 439,677 C454,715.8 475.5,763.1 493,800 C510.5,836.9 535.7,881.8 544.2,898.2"/>
    <path pathLength="100" marker-end="url(#ah)" d="M339,308 C335.7,335.8 321.5,420.8 319,475 C316.5,529.2 320.7,592 324,633 C327.3,674 330.5,682.2 339,721 C347.5,759.8 363.8,829.7 375,866 C386.2,902.3 397.3,918.2 406,939 C414.7,959.8 418.2,973 427,991 C435.8,1009 453.4,1037.6 458.7,1046.9"/>
    <path pathLength="100" marker-end="url(#ah)" d="M321,308 C314.3,338.8 288.2,424.2 281,493 C273.8,561.8 271.5,644.8 278,721 C284.5,797.2 307.1,895.5 320,950 C332.9,1004.5 343.7,1017.3 355.5,1048 C367.3,1078.7 381.3,1111.3 391,1134 C400.7,1156.7 410.1,1175.7 413.9,1184"/>
    <path pathLength="100" marker-end="url(#ah)" d="M296,282 C287,320.8 254,450.7 242,515 C230,579.3 228.2,621.2 224,668 C219.8,714.8 217,750.8 217,796 C217,841.2 220.8,895.7 224,939 C227.2,982.3 229.3,1012.8 236,1056 C242.8,1099.2 254.8,1156.4 264.5,1198 C274.2,1239.6 289.2,1287.6 294.1,1305.5"/>
  </g>
</g>

<!-- ================= CELL ICONS ================= -->
<ellipse cx="810.5" cy="259.9" rx="48.5" ry="50.6" fill="#7dab89" stroke="#4d7b58" stroke-width="1.5"/>
<ellipse cx="815" cy="264.9" rx="30.5" ry="29.9" fill="#4f8b63" stroke="#3f6f4f" stroke-width="1.2"/>
<ellipse cx="805.2" cy="404" rx="48.5" ry="50.6" fill="#def3d9" stroke="#79b26e" stroke-width="1.5"/>
<ellipse cx="810.3" cy="409" rx="30.5" ry="30" fill="#c0e1b6" stroke="#a6d19b" stroke-width="1.2"/>
<ellipse cx="784" cy="544" rx="49" ry="50.6" fill="#f8d8b2" stroke="#d08a50" stroke-width="1.5"/>
<ellipse cx="789" cy="549.2" rx="30.2" ry="30" fill="#f0b890" stroke="#e0a080" stroke-width="1.2"/>
<use href="#tamp" fill="#c4c3ea" stroke="#9896cc" stroke-width="1.6" stroke-linejoin="round"/>
<use href="#tamp" fill="#d9d9f2" transform="translate(745,679) scale(.86) translate(-745,-679)"/>
<g fill="#c4c3ea">
  <circle cx="700" cy="700" r="5"/><circle cx="790" cy="640" r="5"/><circle cx="795" cy="700" r="5"/><circle cx="720" cy="632" r="4"/><circle cx="760" cy="726" r="5"/>
</g>
<ellipse cx="740.4" cy="677" rx="33.5" ry="34.5" fill="#aaa6d0" stroke="#9890c0" stroke-width="1"/>
<ellipse cx="748" cy="688" rx="24" ry="20" fill="#9e99c6" opacity=".6"/>
<ellipse cx="727" cy="660" rx="12" ry="8" fill="#c8c6e4" opacity=".7"/>
<g fill="none" stroke="#9a98cc" stroke-width="1">
  <circle cx="700" cy="650" r="3"/><circle cx="712" cy="643" r="2.5"/><circle cx="786" cy="647" r="3"/><circle cx="794" cy="692" r="3"/><circle cx="770" cy="714" r="3"/><circle cx="716" cy="722" r="3"/><circle cx="736" cy="732" r="2.5"/><circle cx="690" cy="690" r="3"/><circle cx="760" cy="629" r="2.5"/><circle cx="800" cy="676" r="2.5"/>
</g>
<g fill="#8a88b8"><circle cx="705" cy="662" r="1.2"/><circle cx="796" cy="665" r="1.2"/><circle cx="780" cy="722" r="1.2"/><circle cx="745" cy="726" r="1.2"/><circle cx="724" cy="632" r="1.2"/></g>
<path d="M733,827 Q737.8,843.6 725.4,855.5 Q721.3,872.3 704.5,876.4 Q692.6,888.8 676,884 Q659.4,888.8 647.5,876.4 Q630.7,872.3 626.6,855.5 Q614.2,843.6 619,827 Q614.2,810.4 626.6,798.5 Q630.7,781.7 647.5,777.6 Q659.4,765.2 676,770 Q692.6,765.2 704.5,777.6 Q721.3,781.7 725.4,798.5 Q737.8,810.4 733,827 Z" fill="#3f7ecb" stroke="#2a5fb5" stroke-width="1.6"/>
<ellipse cx="684.4" cy="833.6" rx="26.5" ry="26.2" fill="#1c55b1" stroke="#174aa0" stroke-width="1"/>
<g fill="#86aee0">
  <circle cx="660" cy="790" r="3.5"/><circle cx="702" cy="783" r="3"/><circle cx="718" cy="805" r="4"/><circle cx="638" cy="852" r="4"/><circle cx="714" cy="846" r="3"/><circle cx="691" cy="868" r="3.5"/><circle cx="650" cy="804" r="1.8"/><circle cx="666" cy="865" r="1.5"/><circle cx="722" cy="830" r="1.5"/>
</g>
<g fill="#2f65b8"><circle cx="670" cy="800" r="1.6"/><circle cx="640" cy="830" r="1.6"/><circle cx="705" cy="872" r="1.6"/><circle cx="728" cy="815" r="1.4"/></g>
<g fill="none" stroke-linecap="round">
  <g stroke="#b58fc3" stroke-width="6.5">
    <path d="M605,940 Q602,925 601,917"/><path d="M640,948 Q660,932 674,926"/><path d="M590,958 Q580,956 572,956"/><path d="M650,982 Q658,980 664,981"/><path d="M590,1000 Q580,1004 574,1006"/><path d="M625,1010 Q628,1020 630,1026"/>
  </g>
  <g stroke="#cfaed9" stroke-width="4.5">
    <path d="M605,940 Q602,925 601,917"/><path d="M640,948 Q660,932 674,926"/><path d="M590,958 Q580,956 572,956"/><path d="M650,982 Q658,980 664,981"/><path d="M590,1000 Q580,1004 574,1006"/><path d="M625,1010 Q628,1020 630,1026"/>
  </g>
  <g stroke="#6d3a7f" stroke-width="7.5">
    <path d="M596,948 Q585,930 572,917"/><path d="M578,966 Q560,960 540,962"/><path d="M580,990 Q560,995 539,995"/><path d="M600,1012 Q596,1030 590,1044"/><path d="M640,1008 Q652,1020 667,1026"/><path d="M648,966 Q668,960 685,963"/>
  </g>
  <g stroke="#9c62aa" stroke-width="5.5">
    <path d="M596,948 Q585,930 572,917"/><path d="M578,966 Q560,960 540,962"/><path d="M580,990 Q560,995 539,995"/><path d="M600,1012 Q596,1030 590,1044"/><path d="M640,1008 Q652,1020 667,1026"/><path d="M648,966 Q668,960 685,963"/>
  </g>
</g>
<ellipse cx="613" cy="976" rx="41" ry="40" fill="#9c62aa" stroke="#6e3a80" stroke-width="1.4"/>
<ellipse cx="613" cy="984" rx="23" ry="18.6" fill="#7e4590" stroke="#6a3478" stroke-width="1"/>
<g fill="#dcdaf0" stroke="#8c7cc4" stroke-width="1.4" stroke-linejoin="round">
  <polygon points="496,1112 474,1126 497,1128"/>
  <polygon points="500,1150 488,1171 514,1158"/>
  <polygon points="572,1096 597,1083 586,1110"/>
  <polygon points="588,1128 606,1139 585,1143"/>
  <path d="M590,1122 Q595.9,1131.8 586.2,1138.9 Q587.4,1149.8 575.4,1153.1 Q571.7,1163.6 559.2,1162.7 Q551.1,1171.1 540,1166 Q528.9,1171.1 520.9,1162.7 Q508.3,1163.6 504.6,1153.1 Q492.6,1149.8 493.8,1138.9 Q484.1,1131.8 490,1122 Q484.1,1112.3 493.8,1105.1 Q492.6,1094.2 504.6,1090.9 Q508.3,1080.5 520.9,1081.3 Q528.9,1073 540,1078 Q551.1,1073 559.2,1081.3 Q571.7,1080.5 575.4,1090.9 Q587.4,1094.2 586.2,1105.1 Q595.9,1112.3 590,1122 Z"/>
</g>
<ellipse cx="540" cy="1122" rx="40" ry="34" fill="#e6e4f6"/>
<ellipse cx="549" cy="1117" rx="36" ry="23" fill="#a99ad6" stroke="#9080c4" stroke-width="1" transform="rotate(45 549 1117)"/>
<ellipse cx="540" cy="1105" rx="12" ry="6" fill="#c2b6e4" opacity=".8" transform="rotate(45 540 1105)"/>
<g fill="none" stroke="#9a88cc" stroke-width="1">
  <circle cx="505" cy="1110" r="2.5"/><circle cx="512" cy="1130" r="2.2"/><circle cx="520" cy="1145" r="2.5"/><circle cx="532" cy="1152" r="2"/><circle cx="502" cy="1135" r="2"/><circle cx="562" cy="1152" r="2.5"/><circle cx="577" cy="1140" r="2.2"/><circle cx="512" cy="1098" r="2"/><circle cx="524" cy="1092" r="2.5"/><circle cx="518" cy="1120" r="1.8"/>
</g>
<ellipse cx="469.3" cy="1254" rx="44.3" ry="47.2" fill="#a0cdd8" stroke="#6a8fa8" stroke-width="1.3"/>
<ellipse cx="467" cy="1248" rx="26.7" ry="27.7" fill="#79abbc" stroke="#577f92" stroke-width="1.1"/>
<path d="M288.9,1358.6 L330.8,1361.4 C340,1360 348,1352 351.1,1346.1 C354,1340 353,1330 354.7,1325.3 L357.1,1324.5 C358,1332 357,1340 362,1346.1 C366,1348 370,1344 371.5,1340.6 C376,1334 382,1325 387.6,1317 C383,1330 378,1345 378.7,1351.7 C377,1365 377,1375 377.5,1382.1 C381,1395 384,1402 388.3,1407 C393,1414 398,1419 400.3,1421 C405,1424 410,1427 415.1,1429.8 C408,1429 402,1428 395.5,1426.5 C386,1423 378,1418 371.5,1415.4 C366,1414 362,1416 362,1418.2 C360,1424 359,1430 358.3,1432 L356,1433.4 C356,1428 357,1422 356,1418.2 C352,1419 350,1423 347.6,1426.5 C344,1431 341,1434 338,1437.6 L329.6,1443.7 C332,1436 336,1428 338,1418.2 C340,1410 340,1400 338,1393.2 C336,1384 334,1378 330.8,1373.8 C325,1369 320,1367 314,1365.5 C306,1363 297,1361 288.9,1358.6 Z" fill="#fbefc4" stroke="#c8944c" stroke-width="1.5" stroke-linejoin="round"/>
<ellipse cx="359" cy="1387.7" rx="10.8" ry="12.5" fill="#f4cd98" stroke="#e3b27c" stroke-width="1"/>

<!-- ================= TEXT ================= -->
<g font-family="Liberation Sans, Arial, sans-serif" fill="#111">
  <text x="886" y="257.9" font-weight="bold" font-size="28" textLength="159" lengthAdjust="spacingAndGlyphs">CD8<tspan font-size="17" dy="-11">+</tspan><tspan dy="11"> T cells</tspan></text>
  <text x="1045" y="257.9" font-size="20" textLength="427" lengthAdjust="spacingAndGlyphs">:Mediate tumor cell killing via perforin and</text>
  <text x="886" y="284.3" font-size="20" textLength="551" lengthAdjust="spacingAndGlyphs">granzyme release but often become exhausted in TIME</text>
  <text x="879" y="407" font-weight="bold" font-size="28" textLength="166" lengthAdjust="spacingAndGlyphs">CD4+ T cells</text>
  <text x="1045" y="407" font-size="20" textLength="439.5" lengthAdjust="spacingAndGlyphs">:Coordinate immune responses; subsets like</text>
  <text x="879" y="434.3" font-size="20" textLength="607.6" lengthAdjust="spacingAndGlyphs">Th1 support anti-tumor immunity, while Th2 may suppress it</text>
  <text x="845.6" y="544" font-weight="bold" font-size="28" textLength="339" lengthAdjust="spacingAndGlyphs">Regulatory T cells (Tregs)</text>
  <text x="1184.7" y="544" font-size="20" textLength="248.5" lengthAdjust="spacingAndGlyphs">:Suppress effector T cells</text>
  <text x="845.6" y="570.6" font-size="20" textLength="429.7" lengthAdjust="spacingAndGlyphs">and promote immune tolerance to tumors.</text>
  <text x="819.4" y="669" font-weight="bold" font-size="28" textLength="543.9" lengthAdjust="spacingAndGlyphs">Tumor-Associated Macrophages (TAMs)</text>
  <text x="1363.3" y="669" font-size="20" textLength="139.7" lengthAdjust="spacingAndGlyphs">:M2-polarized</text>
  <text x="819.4" y="696.2" font-size="20" textLength="695.4" lengthAdjust="spacingAndGlyphs">TAMs promote tumor growth, angiogenesis, and immunosuppression</text>
  <text x="750.4" y="833" font-weight="bold" font-size="28" textLength="583.2" lengthAdjust="spacingAndGlyphs">Myeloid-Derived Suppressor Cells (MDSCs)</text>
  <text x="1333.6" y="833" font-size="20" textLength="136.3" lengthAdjust="spacingAndGlyphs">: Inhibit T cell</text>
  <text x="750.4" y="860.2" font-size="20" textLength="679.7" lengthAdjust="spacingAndGlyphs">function via arginase, nitric oxide, and ROS production and promote</text>
  <text x="750.4" y="884.8" font-size="20" textLength="163.7" lengthAdjust="spacingAndGlyphs">immune evasion</text>
  <text x="705.5" y="976.4" font-weight="bold" font-size="28" textLength="191.8" lengthAdjust="spacingAndGlyphs">Dendritic cells</text>
  <text x="897.3" y="976.4" font-size="20" textLength="569.8" lengthAdjust="spacingAndGlyphs">: Often tolerogenic or immature in breast TIME, failing to</text>
  <text x="705.5" y="1002.4" font-size="20" textLength="685.3" lengthAdjust="spacingAndGlyphs">activate T cells effectively, leading to impaired anti-tumor responses.</text>
  <text x="619.1" y="1121.8" font-weight="bold" font-size="28" textLength="249" lengthAdjust="spacingAndGlyphs">Natural Killer cells</text>
  <text x="868.1" y="1121.8" font-size="20" textLength="484.2" lengthAdjust="spacingAndGlyphs">: Suppressed by TGF-β, IL-10, and tumor-derived</text>
  <text x="619.1" y="1148.2" font-size="20" textLength="645.6" lengthAdjust="spacingAndGlyphs">ligands, leading to reduced tumor cell lysis and immune evasion.</text>
  <text x="529.5" y="1254.5" font-weight="bold" font-size="28" textLength="465.8" lengthAdjust="spacingAndGlyphs">B Cells / Regulatory B Cells (Bregs)</text>
  <text x="995.3" y="1254.5" font-size="20" textLength="397.9" lengthAdjust="spacingAndGlyphs">: Secrete IL-10 and express PD-L1 in the</text>
  <text x="529.5" y="1280.9" font-size="20" textLength="801.7" lengthAdjust="spacingAndGlyphs">TIME; inhibit effector T cell responses and promote a suppressive immune niche</text>
  <text x="418.2" y="1383.5" font-weight="bold" font-size="28" textLength="502.6" lengthAdjust="spacingAndGlyphs">Cancer-Associated Fibroblasts (CAFs)</text>
  <text x="920.8" y="1383.5" font-size="20" textLength="385.4" lengthAdjust="spacingAndGlyphs">: Secrete TGF-β and CXCL12 to exclude</text>
  <text x="418.2" y="1410.6" font-size="20" textLength="872.9" lengthAdjust="spacingAndGlyphs">immune cells, remodel ECM, and support immunosuppression and cancer cell invasion.</text>
</g>
</svg>
</body>
</html>
